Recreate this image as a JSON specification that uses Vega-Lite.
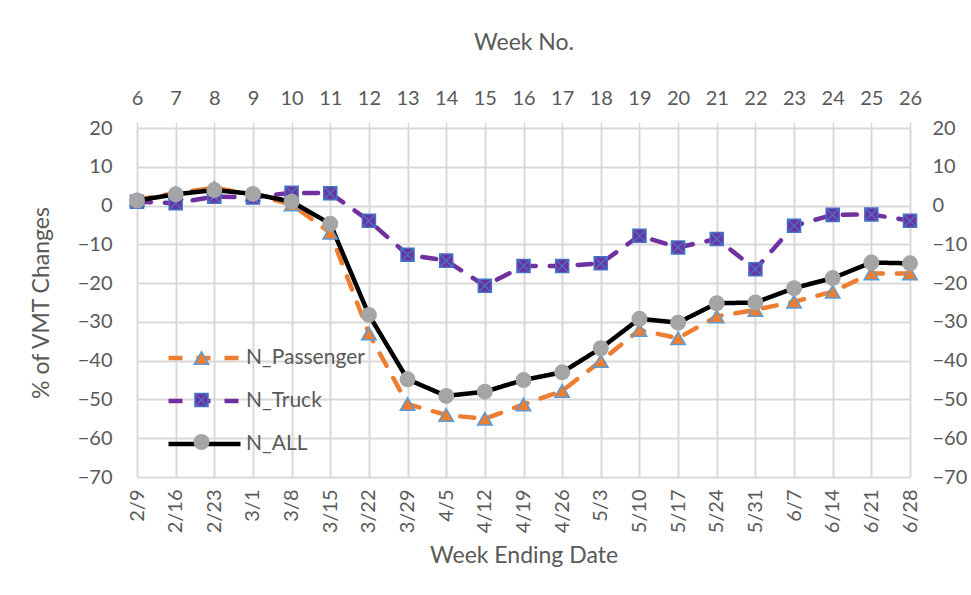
{
  "$schema": "https://vega.github.io/schema/vega-lite/v6.json",
  "autosize": {"type": "none"},
  "padding": {"left": 137, "top": 128, "right": 61, "bottom": 118},
  "width": 773,
  "height": 349,
  "background": "white",
  "data": {"values": [
    {"date": "2/9", "week": 6, "N_Passenger": 1.5, "N_Truck": 1.0, "N_ALL": 1.3},
    {"date": "2/16", "week": 7, "N_Passenger": 3.2, "N_Truck": 0.6, "N_ALL": 2.9},
    {"date": "2/23", "week": 8, "N_Passenger": 4.6, "N_Truck": 2.3, "N_ALL": 4.0},
    {"date": "3/1", "week": 9, "N_Passenger": 2.8, "N_Truck": 2.1, "N_ALL": 3.0},
    {"date": "3/8", "week": 10, "N_Passenger": 0.3, "N_Truck": 3.3, "N_ALL": 1.0},
    {"date": "3/15", "week": 11, "N_Passenger": -7.0, "N_Truck": 3.2, "N_ALL": -4.7},
    {"date": "3/22", "week": 12, "N_Passenger": -33.0, "N_Truck": -3.9, "N_ALL": -28.2},
    {"date": "3/29", "week": 13, "N_Passenger": -51.2, "N_Truck": -12.7, "N_ALL": -44.8},
    {"date": "4/5", "week": 14, "N_Passenger": -54.0, "N_Truck": -14.2, "N_ALL": -49.1},
    {"date": "4/12", "week": 15, "N_Passenger": -55.0, "N_Truck": -20.7, "N_ALL": -48.0},
    {"date": "4/19", "week": 16, "N_Passenger": -51.3, "N_Truck": -15.6, "N_ALL": -45.0},
    {"date": "4/26", "week": 17, "N_Passenger": -47.8, "N_Truck": -15.6, "N_ALL": -43.0},
    {"date": "5/3", "week": 18, "N_Passenger": -40.1, "N_Truck": -14.9, "N_ALL": -36.8},
    {"date": "5/10", "week": 19, "N_Passenger": -32.1, "N_Truck": -7.8, "N_ALL": -29.2},
    {"date": "5/17", "week": 20, "N_Passenger": -34.2, "N_Truck": -10.8, "N_ALL": -30.2},
    {"date": "5/24", "week": 21, "N_Passenger": -28.6, "N_Truck": -8.6, "N_ALL": -25.2},
    {"date": "5/31", "week": 22, "N_Passenger": -26.9, "N_Truck": -16.4, "N_ALL": -25.0},
    {"date": "6/7", "week": 23, "N_Passenger": -24.8, "N_Truck": -5.2, "N_ALL": -21.3},
    {"date": "6/14", "week": 24, "N_Passenger": -22.2, "N_Truck": -2.4, "N_ALL": -18.7},
    {"date": "6/21", "week": 25, "N_Passenger": -17.5, "N_Truck": -2.3, "N_ALL": -14.7},
    {"date": "6/28", "week": 26, "N_Passenger": -17.5, "N_Truck": -3.9, "N_ALL": -14.9}
  ]},
  "config": {
    "font": "Lato",
    "view": {"stroke": null},
    "axis": {
      "labelFont": "Lato",
      "titleFont": "Lato",
      "labelColor": "#595959",
      "titleColor": "#595959",
      "titleFontWeight": "normal",
      "labelFontSize": 20,
      "titleFontSize": 23,
      "gridColor": "#d9d9d9",
      "gridWidth": 2,
      "gridOpacity": 1,
      "domain": false,
      "ticks": false
    },
    "legend": {
      "labelFont": "Lato",
      "labelColor": "#595959",
      "labelFontSize": 21
    }
  },
  "resolve": {"scale": {"x": "independent"}, "axis": {"y": "independent", "x": "independent"}},
  "layer": [
    {
      "transform": [{"fold": ["N_Passenger", "N_Truck", "N_ALL"], "as": ["series", "value"]}],
      "mark": {"type": "line", "strokeWidth": 4.5, "strokeCap": "round", "strokeJoin": "round"},
      "encoding": {
        "x": {
          "field": "date", "type": "ordinal", "sort": null,
          "scale": {"type": "point", "padding": 0},
          "axis": {
            "orient": "bottom", "grid": true, "labelAngle": 270, "labelAlign": "right",
            "labelBaseline": "middle", "labelPadding": 12,
            "title": "Week Ending Date", "titlePadding": 12
          }
        },
        "y": {
          "field": "value", "type": "quantitative",
          "scale": {"domain": [-70, 20], "nice": false, "zero": false},
          "axis": {
            "orient": "left", "grid": true, "values": [-70, -60, -50, -40, -30, -20, -10, 0, 10, 20],
            "labelPadding": 25, "title": "% of VMT Changes", "titlePadding": 24
          }
        },
        "color": {
          "field": "series", "type": "nominal",
          "scale": {"domain": ["N_Passenger", "N_Truck", "N_ALL"], "range": ["#ed7d31", "#7030a0", "#000000"]},
          "legend": {
            "orient": "none", "legendX": 29, "legendY": 220, "title": null, "padding": 0,
            "symbolType": "stroke", "symbolSize": 5184, "symbolStrokeWidth": 4.5,
            "clipHeight": 20, "rowPadding": 22, "labelOffset": 3
          }
        },
        "strokeDash": {
          "field": "series", "type": "nominal",
          "scale": {"domain": ["N_Passenger", "N_Truck", "N_ALL"], "range": [[14, 14], [14, 14], [1, 0]]},
          "legend": {
            "orient": "none", "legendX": 29, "legendY": 220, "title": null, "padding": 0,
            "symbolType": "stroke", "symbolSize": 5184, "symbolStrokeWidth": 4.5,
            "clipHeight": 20, "rowPadding": 22, "labelOffset": 3
          }
        }
      }
    },
    {
      "transform": [{"fold": ["N_Passenger", "N_Truck", "N_ALL"], "as": ["Series", "value"]}],
      "mark": {"type": "point", "size": 210, "strokeWidth": 1.5, "opacity": 1, "fillOpacity": 1},
      "encoding": {
        "x": {
          "field": "week", "type": "ordinal",
          "scale": {"type": "point", "padding": 0},
          "axis": {
            "orient": "top", "grid": false, "labelAngle": 0, "ticks": true, "tickSize": 6,
            "tickColor": "#d9d9d9", "tickWidth": 1.5, "labelPadding": 14,
            "title": "Week No.", "titlePadding": 34
          }
        },
        "y": {
          "field": "value", "type": "quantitative",
          "axis": {
            "orient": "right", "grid": false, "values": [-70, -60, -50, -40, -30, -20, -10, 0, 10, 20],
            "labelPadding": 22, "title": null
          }
        },
        "fill": {
          "field": "Series", "type": "nominal", "sort": ["N_Passenger", "N_Truck", "N_ALL"],
          "scale": {"range": ["#ed7d31", "#7030a0", "#a5a5a5"]},
          "legend": {
            "orient": "none", "legendX": 54, "legendY": 220, "title": null, "padding": 0,
            "values": ["N_Passenger"], "symbolType": "triangle-up", "symbolStrokeColor": "#5b9bd5",
            "symbolSize": 210, "clipHeight": 20, "labelExpr": "''", "symbolStrokeWidth": 1.5
          }
        },
        "shape": {
          "field": "Series", "type": "nominal", "sort": ["N_Truck", "N_Passenger", "N_ALL"],
          "scale": {"range": ["M-0.9,-0.9H0.9V0.9H-0.9ZM-0.9,-0.9L0.9,0.9M0.9,-0.9L-0.9,0.9", "triangle-up", "circle"]},
          "legend": {
            "orient": "none", "legendX": 54, "legendY": 262, "title": null, "padding": 0,
            "values": ["N_Truck"], "symbolFillColor": "#7030a0", "symbolStrokeColor": "#4472c4",
            "symbolSize": 210, "clipHeight": 20, "labelExpr": "''", "symbolStrokeWidth": 1.5
          }
        },
        "stroke": {
          "field": "Series", "type": "nominal", "sort": ["N_ALL", "N_Passenger", "N_Truck"],
          "scale": {"range": ["#a5a5a5", "#5b9bd5", "#4472c4"]},
          "legend": {
            "orient": "none", "legendX": 54, "legendY": 304, "title": null, "padding": 0,
            "values": ["N_ALL"], "symbolType": "circle", "symbolFillColor": "#a5a5a5",
            "symbolSize": 210, "clipHeight": 20, "labelExpr": "''", "symbolStrokeWidth": 1.5
          }
        }
      }
    }
  ]
}
